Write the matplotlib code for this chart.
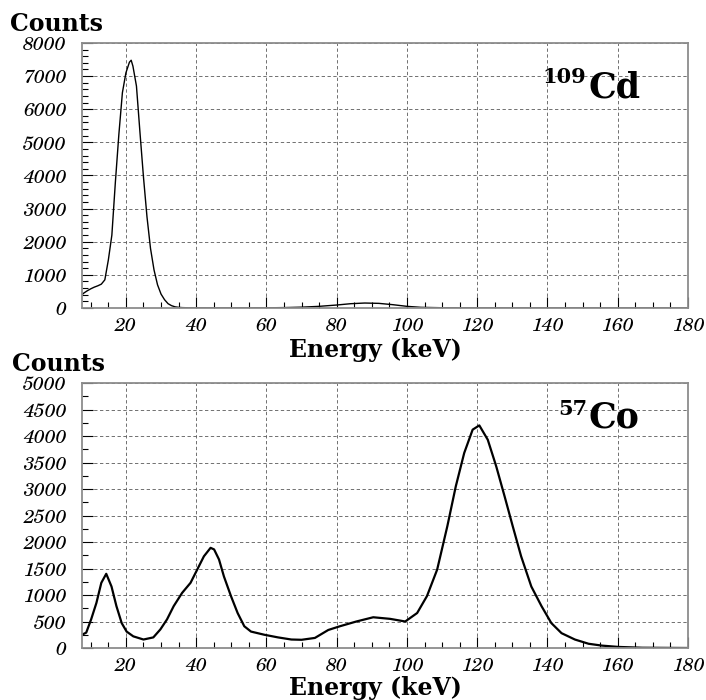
import matplotlib
matplotlib.use("Agg")
import matplotlib.pyplot as plt
from matplotlib import font_manager as fm
from matplotlib.ticker import MultipleLocator

# 109Cd spectrum (energy in keV, counts)
cd_energy = [7.5, 8, 9, 10, 11, 12, 13, 14, 15, 16, 17, 18, 19, 20, 21, 21.5,
             22, 23, 24, 25, 26, 27, 28, 29, 30, 31, 32, 33, 34, 35, 36, 38,
             40, 45, 50, 55, 60, 65, 70, 75, 80, 84, 88, 92, 96, 100, 104,
             110, 120, 140, 160, 180]
cd_counts = [400, 450, 520, 580, 630, 670, 720, 850, 1450, 2200, 3800, 5250,
             6500, 7100, 7420, 7480, 7300, 6700, 5300, 3950, 2750, 1800, 1150,
             700, 420, 250, 130, 70, 35, 20, 12, 6, 4, 3, 3, 4, 6, 12, 25, 50,
             90, 130, 150, 140, 100, 50, 20, 8, 3, 1, 0, 0]

# 57Co spectrum
co_energy = [7.5, 8.7, 10.1, 11.6, 13.0, 14.4, 15.9, 17.3, 18.8, 20.2, 22.1,
             25.0, 27.8, 29.8, 31.7, 33.6, 36.0, 38.4, 40.3, 42.2, 44.1, 45.1,
             46.5, 47.9, 49.9, 51.8, 53.7, 55.6, 59.4, 63.3, 67.1, 70.0, 73.8,
             77.6, 80.9, 85.6, 90.4, 95.2, 99.5, 102.9, 105.7, 108.6, 111.5,
             113.9, 116.3, 118.7, 120.6, 123.0, 125.4, 127.8, 130.1, 132.5,
             135.4, 138.3, 141.1, 144.0, 147.8, 151.7, 155.5, 160.3, 167, 180]
co_counts = [250, 290, 540, 850, 1230, 1400, 1160, 790, 470, 310, 220, 160,
             200, 350, 540, 790, 1040, 1230, 1480, 1730, 1890, 1860, 1670,
             1350, 980, 660, 410, 310, 250, 200, 160, 155, 190, 340, 410, 500,
             580, 550, 500, 660, 980, 1480, 2300, 3050, 3680, 4120, 4200, 3930,
             3430, 2860, 2300, 1730, 1160, 790, 470, 280, 160, 80, 45, 20, 5, 0]

W, H = 706, 700
SERIF = "DejaVu Serif"

# pick a serif family that really has an italic face for the tick labels
italic_fams = {f.name for f in fm.fontManager.ttflist if f.style == "italic"}
TICK_FONT, TICK_SIZE = SERIF, 12.5
for fam, size in [("TeX Gyre Schola", 14), ("C059", 14),
                  ("Century Schoolbook L", 14), ("Liberation Serif", 15),
                  ("DejaVu Serif", 12.5), ("PT Serif", 14),
                  ("Source Serif 4", 14)]:
    if fam in italic_fams:
        TICK_FONT, TICK_SIZE = fam, size
        break


def px(x, y):
    """pixel position (from top-left) -> figure fraction"""
    return x / W, 1 - y / H


def style_axes(ax, ymax, ymajor, yminor):
    ax.set_xlim(7.5, 180)
    ax.set_ylim(0, ymax)
    ax.xaxis.set_major_locator(MultipleLocator(20))
    ax.xaxis.set_minor_locator(MultipleLocator(5))
    ax.yaxis.set_major_locator(MultipleLocator(ymajor))
    ax.yaxis.set_minor_locator(MultipleLocator(yminor))
    ax.tick_params(which="both", direction="in", top=False, right=False,
                   color="black")
    ax.tick_params(which="major", length=8, width=0.8)
    ax.tick_params(which="minor", length=4, width=0.8)
    ax.tick_params(axis="x", pad=6)
    ax.tick_params(axis="y", pad=11)
    ax.grid(True, which="major", color="0.35", linestyle=(0, (4, 3)),
            linewidth=0.6)
    for sp in ax.spines.values():
        sp.set_color("0.55")
        sp.set_linewidth(1.3)


def italic_ticks(ax):
    for lab in ax.get_xticklabels() + ax.get_yticklabels():
        lab.set_fontproperties(fm.FontProperties(family=TICK_FONT,
                                                 style="italic",
                                                 size=TICK_SIZE))


fig = plt.figure(figsize=(W / 100, H / 100), dpi=100)

ax1 = fig.add_axes([82 / W, 1 - 308 / H, 606 / W, 265 / H])
ax1.plot(cd_energy, cd_counts, color="black", linewidth=1.0)
style_axes(ax1, 8000, 1000, 200)

ax2 = fig.add_axes([82 / W, 1 - 648 / H, 606 / W, 265 / H])
ax2.plot(co_energy, co_counts, color="black", linewidth=1.6)
style_axes(ax2, 5000, 500, 250)

bold = dict(family=SERIF, weight="bold", style="normal")

fig.text(*px(10, 31), "Counts", fontsize=17, va="baseline", **bold)
fig.text(*px(12, 371), "Counts", fontsize=17, va="baseline", **bold)
fig.text(*px(375, 357), "Energy (keV)", fontsize=17, ha="center",
         va="baseline", **bold)
fig.text(*px(375, 695), "Energy (keV)", fontsize=17, ha="center",
         va="baseline", **bold)

# isotope labels
fig.text(*px(542, 83), "109", fontsize=15, va="baseline", **bold)
fig.text(*px(588, 97), "Cd", fontsize=25, va="baseline", **bold)
fig.text(*px(558, 415), "57", fontsize=15, va="baseline", **bold)
fig.text(*px(588, 428), "Co", fontsize=25, va="baseline", **bold)

fig.canvas.draw()
italic_ticks(ax1)
italic_ticks(ax2)

fig.savefig("out.png", dpi=100)
